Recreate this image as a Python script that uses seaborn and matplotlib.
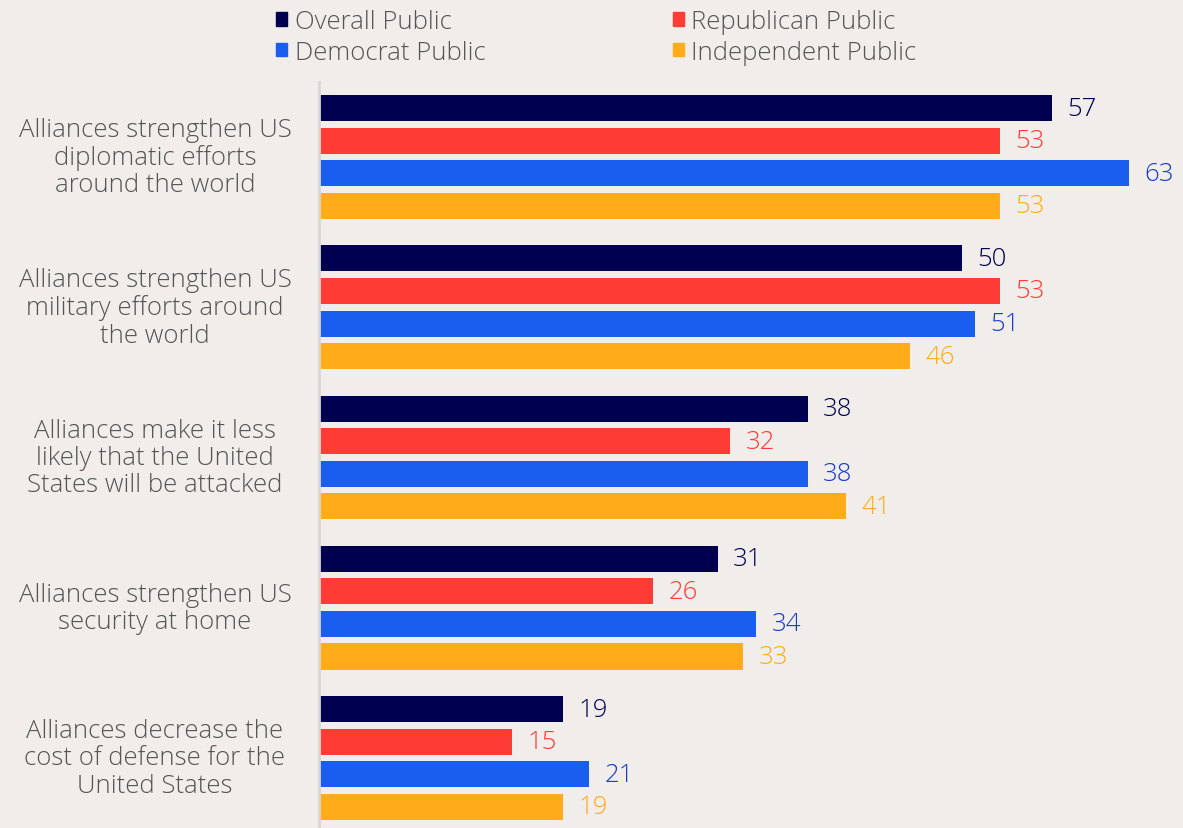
import matplotlib
matplotlib.use("Agg")
import matplotlib.pyplot as plt
import seaborn as sns
import pandas as pd
from matplotlib.patches import Patch
from matplotlib.transforms import blended_transform_factory

categories = [
    "Alliances strengthen US\ndiplomatic efforts\naround the world",
    "Alliances strengthen US\nmilitary efforts around\nthe world",
    "Alliances make it less\nlikely that the United\nStates will be attacked",
    "Alliances strengthen US\nsecurity at home",
    "Alliances decrease the\ncost of defense for the\nUnited States",
]
series = ["Overall Public", "Republican Public", "Democrat Public", "Independent Public"]
overall = [57, 50, 38, 31, 19]
republican = [53, 53, 32, 26, 15]
democrat = [63, 51, 38, 34, 21]
independent = [53, 46, 41, 33, 19]

bar_colors = ["#000050", "#FF3B36", "#1A5EF0", "#FFAB1A"]
label_colors = ["#000050", "#FF3B36", "#1A3CC8", "#FFAB1A"]
bg = "#F0EDEA"

rows = []
for s, vals in zip(series, [overall, republican, democrat, independent]):
    for c, v in zip(categories, vals):
        rows.append({"cat": c, "series": s, "value": v})
df = pd.DataFrame(rows)

sns.set_theme(style="white")
plt.rcParams["font.family"] = ["Open Sans", "DejaVu Sans"]

FS = 18.5

fig = plt.figure(figsize=(11.83, 8.29), dpi=100, facecolor=bg)
ax = fig.add_axes([319 / 1183, -0.006, 1 - 319 / 1183, (829 - 78) / 829])
ax.set_facecolor(bg)

sns.barplot(data=df, y="cat", x="value", hue="series", hue_order=series,
            order=categories, palette=bar_colors, orient="h", width=0.867,
            gap=0.2, ax=ax, legend=False, saturation=1, linewidth=0)

for cont, col in zip(ax.containers, label_colors):
    ax.bar_label(cont, padding=11, color=col, fontsize=FS, fontweight="light")

ax.set_xlim(0, 67.2)
ax.set_ylim(4.5, -0.5)
ax.set_xlabel("")
ax.set_ylabel("")
ax.set_xticks([])
ax.set_yticks([])
for s in ["top", "right", "bottom"]:
    ax.spines[s].set_visible(False)
ax.spines["left"].set_color("#D9D6D3")
ax.spines["left"].set_linewidth(2)

trans = blended_transform_factory(fig.transFigure, ax.transData)
for i, c in enumerate(categories):
    ax.text(155 / 1183, i, c, transform=trans, ha="center", va="center",
            multialignment="center", fontsize=FS, color="#555555",
            linespacing=1.12, fontweight="light")

handles = [Patch(color=bar_colors[i]) for i in [0, 2, 1, 3]]
labels = [series[i] for i in [0, 2, 1, 3]]
leg = fig.legend(handles, labels, ncol=2, loc="upper left",
                 bbox_to_anchor=(271 / 1183, 0.994), frameon=False,
                 prop={"size": FS, "weight": "light"},
                 labelcolor="#555555", handlelength=0.42, handleheight=0.42,
                 handletextpad=0.3, columnspacing=7.3, labelspacing=0.22,
                 borderaxespad=0.0, borderpad=0.2)

fig.savefig("out.png", dpi=100, facecolor=bg)
